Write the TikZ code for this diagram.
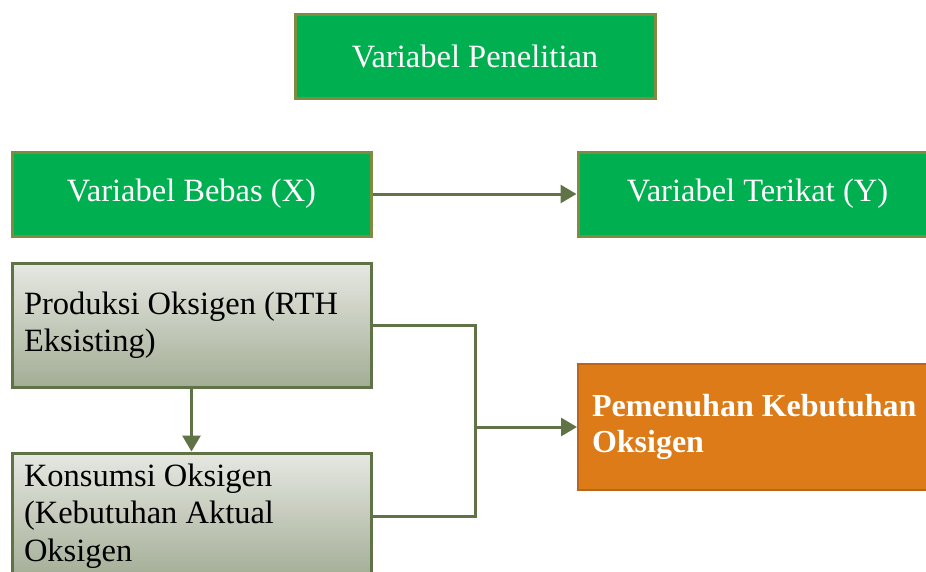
\documentclass[tikz,border=0pt]{standalone}
\usepackage{fontspec}
\setmainfont{Liberation Serif}
\usetikzlibrary{arrows.meta}
\definecolor{hijau}{HTML}{00AF50}
\definecolor{zaitun}{HTML}{7D8C40}
\definecolor{garisgelap}{HTML}{5F7346}
\definecolor{abuatas}{HTML}{E6E8E2}
\definecolor{abubawah}{HTML}{A3AD95}
\definecolor{oranye}{HTML}{DC7B18}
\definecolor{oranyetepi}{HTML}{B8651D}
\begin{document}
\begin{tikzpicture}[x=1pt,y=-1pt,
    teks/.style={font=\fontsize{32.5}{37.5}\selectfont},
    kotakhijau/.style={teks,draw=zaitun,line width=3pt,fill=hijau,text=white,
      minimum width=359pt,minimum height=84pt,inner sep=0pt},
    kotakabu/.style={teks,draw=garisgelap,line width=3pt,top color=abuatas,bottom color=abubawah,
      minimum width=359pt,minimum height=124pt,inner xsep=12pt,text width=335pt,align=flush left},
    kotakoranye/.style={teks,draw=oranyetepi,line width=2pt,fill=oranye,text=white,font=\fontsize{32}{36}\selectfont\bfseries,
      minimum width=359pt,minimum height=126pt,inner xsep=14pt,text width=331pt,align=flush left},
    garis/.style={draw=garisgelap,line width=3pt},
    panah/.style={garis,-{Triangle[length=16pt,width=18pt]}}]
  \useasboundingbox (0,0) rectangle (926,571);
  \clip (0,0) rectangle (926,571);
  \node[kotakhijau,minimum width=360pt] (judul) at (475,56) {Variabel Penelitian};
  \node[kotakhijau] (bebas) at (191.5,194) {Variabel Bebas (X)};
  \node[kotakhijau] (terikat) at (757.5,194) {Variabel Terikat (Y)};
  \node[kotakabu] (produksi) at (191.5,325) {Produksi Oksigen (RTH\\Eksisting)};
  \node[kotakabu,minimum height=126pt] (konsumsi) at (191.5,516) {Konsumsi Oksigen\\(Kebutuhan Aktual\\Oksigen};
  \node[kotakoranye] (pemenuhan) at (757.5,427) {Pemenuhan Kebutuhan\\Oksigen};
  \coordinate (simpul) at (475,427);
  \draw[panah] (bebas) -- (terikat);
  \draw[panah] (produksi) -- (konsumsi);
  \draw[garis] (produksi.east) -| (simpul) |- (konsumsi.east);
  \draw[panah] (simpul) -- (pemenuhan.west);
\end{tikzpicture}
\end{document}
